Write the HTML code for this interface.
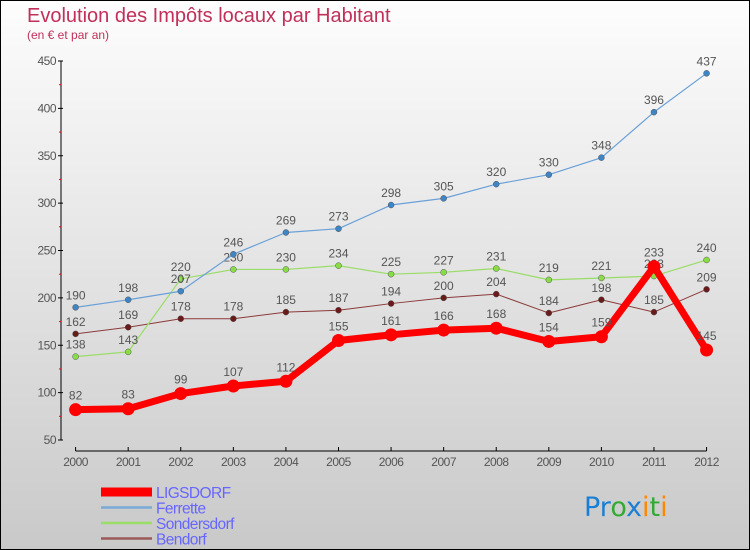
<!DOCTYPE html>
<html><head><meta charset="utf-8"><style>
body{margin:0}
#c{width:748px;height:548px;border:1px solid #000;background:linear-gradient(#fdfdfd,#c9c9c9);position:relative;overflow:hidden;font-family:"Liberation Sans","DejaVu Sans",sans-serif}
</style></head><body>
<div id="c">
<svg id="s" width="748" height="548" xmlns="http://www.w3.org/2000/svg"></svg>
</div>
<script>
const years=[2000,2001,2002,2003,2004,2005,2006,2007,2008,2009,2010,2011,2012];
const ligsdorf=[82,83,99,107,112,155,161,166,168,154,159,233,145];
const ferrette=[190,198,207,246,269,273,298,305,320,330,348,396,437];
const sondersdorf=[138,143,220,230,230,234,225,227,231,219,221,223,240];
const bendorf=[162,169,178,178,185,187,194,200,204,184,198,185,209];
const yTicks=[50,100,150,200,250,300,350,400,450];
const ns="http://www.w3.org/2000/svg";
const s=document.getElementById('s');
const X=i=>74.6+i*52.58;
const Y=v=>439-(v-50)*0.9475;
function el(t,a,p){const e=document.createElementNS(ns,t);for(const k in a)e.setAttribute(k,a[k]);(p||s).appendChild(e);return e;}
function tx(x,y,str,a,p){const e=el('text',Object.assign({x:x,y:y},a),p);e.textContent=str;return e;}
let t=tx(26,21,'Evolution des Impôts locaux par Habitant',{fill:'#c0305a','font-size':20});

t=tx(26,38,'(en € et par an)',{fill:'#c0305a','font-size':12});

let ax=el('line',{x1:60,y1:Y(450),x2:60,y2:Y(50),stroke:'#000','stroke-width':1});

yTicks.forEach((v,i)=>{el('line',{x1:57,x2:62,y1:Y(v),y2:Y(v),stroke:'#000'});
 if(i<yTicks.length-1)el('line',{x1:58,x2:60,y1:Y(v+25),y2:Y(v+25),stroke:'#f00'});
 const l=tx(55,Y(v)+4,v,{fill:'#555','font-size':12,'text-anchor':'end','letter-spacing':'-0.5'});
 });
ax=el('line',{x1:X(0),y1:450,x2:X(12),y2:450,stroke:'#000'});

years.forEach((y,i)=>{el('line',{x1:X(i),x2:X(i),y1:446,y2:450,stroke:'#000'});
 const l=tx(X(i),465,y,{fill:'#555','font-size':12,'text-anchor':'middle','letter-spacing':'-0.5'});
 });
function series(data,color,dot,w,r,name,labelOffset){
 const g=el('g',{});
 el('polyline',{points:data.map((v,i)=>X(i)+','+Y(v)).join(' '),fill:'none',stroke:color,'stroke-width':w,'stroke-linejoin':'round'},g);
 data.forEach((v,i)=>{const c=el('circle',{cx:X(i),cy:Y(v),r:r,fill:dot,stroke:dot=='#f00'?'none':'#555','stroke-width':0.5},g);
  
  const l=tx(X(i),Y(v)-labelOffset,v,{fill:'#555','font-size':12,'text-anchor':'middle'},g);
  });
}
series(bendorf,'#8b3a3a','#6b1a1a',1,3,'bendorf',8);
series(sondersdorf,'#99dd66','#88dd44',1.2,3,'sondersdorf',8);
series(ferrette,'#6aa0d8','#3d85c6',1.2,3,'ferrette',8);
series(ligsdorf,'#f00','#f00',7,6.5,'ligsdorf',10);
const names=['LIGSDORF','Ferrette','Sondersdorf','Bendorf'];
const cols=['#f00','#7aaad8','#99dd66','#9a5a5a'];
names.forEach((n,i)=>{const y=491+i*15.5;
 const g=el('g',{});
 el('line',{x1:100,x2:151,y1:y,y2:y,stroke:cols[i],'stroke-width':i==0?9:2.5},g);
 tx(155,y+6,n,{fill:'#6666ff','font-size':15.5,'letter-spacing':'-0.6'},g);});
const lg=el('text',{x:583,y:515,'font-size':27,'font-family':'"DejaVu Sans",sans-serif'});

[['Pr','#1a7fd4'],['o','#33aa33'],['x','#1a7fd4'],['i','#ff8800'],['t','#33aa33'],['i','#ff8800']].forEach(([c,f])=>{const sp=el('tspan',{fill:f},lg);sp.textContent=c;});
</script>
</body></html>
